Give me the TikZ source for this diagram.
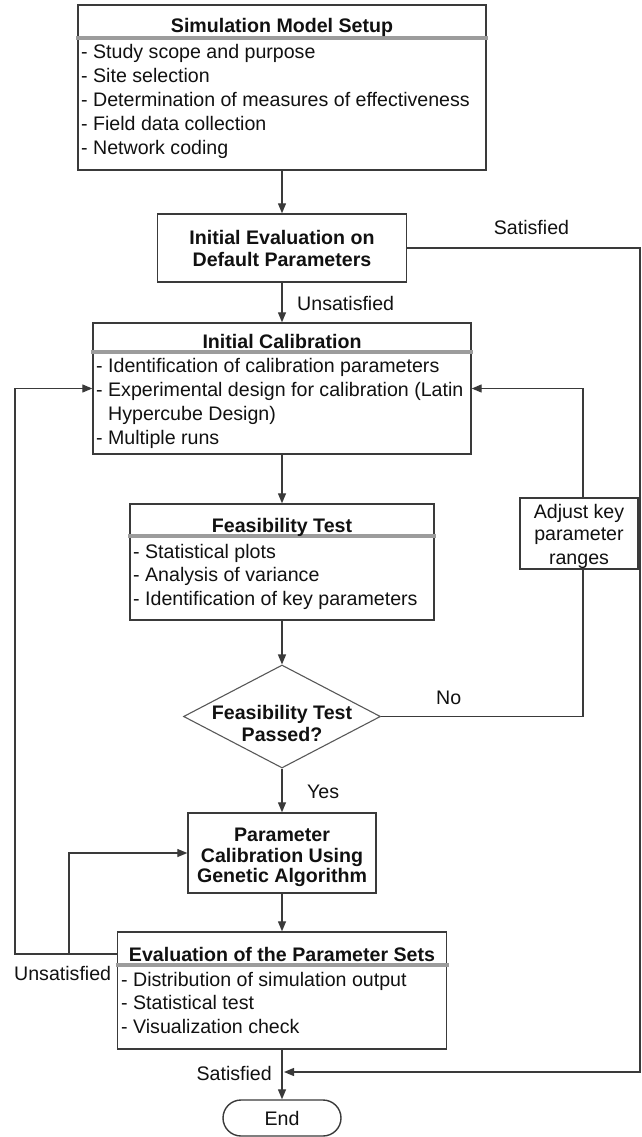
\documentclass[tikz,border=0pt]{standalone}
\usepackage{fontspec}
\setmainfont{Liberation Sans}
\usetikzlibrary{arrows.meta,shapes.geometric,calc}
\definecolor{edge}{HTML}{3A3A3A}
\definecolor{hdrgray}{HTML}{9C9C9C}
\definecolor{ink}{HTML}{111111}
\tikzset{
  box/.style={draw=edge, line width=1.4pt, inner sep=0pt, fill=white},
  txt/.style={font=\fontsize{19.6}{23.7}\selectfont, text=ink, inner sep=0pt},
  btxt/.style={txt, font=\fontsize{19.6}{23.7}\selectfont\bfseries},
  hdr/.style={draw=hdrgray, line width=4pt},
  conn/.style={draw=edge, line width=1.3pt},
  arr/.style={conn, -{Triangle[length=10pt,width=8pt]}},
}
\begin{document}
\begin{tikzpicture}[x=1pt,y=-1pt]
\useasboundingbox (0,0) rectangle (641,1137);

% process boxes
\node[box, minimum width=408pt, minimum height=165pt] (setup) at (282,87.5) {};
\node[box, minimum width=249pt, minimum height=68pt] (init) at (282,248) {};
\node[box, minimum width=378pt, minimum height=131pt] (calib) at (282,388.5) {};
\node[box, minimum width=304pt, minimum height=116pt] (feas) at (282,562) {};
\node[box, minimum width=118pt, minimum height=71pt] (adjust) at (579,533.5) {};
\node[box, diamond, draw=edge!85, line width=1.1pt, minimum width=197pt, minimum height=103pt] (dec) at (282,716.5) {};
\node[box, minimum width=188pt, minimum height=80pt] (ga) at (282,853) {};
\node[box, minimum width=329pt, minimum height=117pt] (eval) at (282,990.5) {};
\node[box, rounded corners=18pt, minimum width=118pt, minimum height=36pt] (end) at (282,1118) {};

% header separators
\draw[hdr] (76,38) -- (488,38);
\draw[hdr] (91,352) -- (473,352);
\draw[hdr] (128,536) -- (436,536);
\draw[hdr] (115.5,965) -- (448.5,965);

% headers
\node[btxt, anchor=base] (setupH) at (282,33) {Simulation Model Setup};
\node[btxt, anchor=base] (calibH) at (282,348) {Initial Calibration};
\node[btxt, anchor=base] (feasH) at (282,532) {Feasibility Test};
\node[btxt, anchor=base] (evalH) at (282,961) {Evaluation of the Parameter Sets};

% bullet lists
\foreach \t [count=\i from 0] in {{- Study scope and purpose},{- Site selection},{- Determination of measures of effectiveness},{- Field data collection},{- Network coding}}
  \node[txt, anchor=base west] (setupI\i) at (81,{59+\i*23.75}) {\t};
\foreach \t [count=\i from 0] in {{- Identification of calibration parameters},{- Experimental design for calibration (Latin},{\hphantom{-} Hypercube Design)},{- Multiple runs}}
  \node[txt, anchor=base west] (calibI\i) at (96,{372+\i*24.3}) {\t};
\foreach \t [count=\i from 0] in {{- Statistical plots},{- Analysis of variance},{- Identification of key parameters}}
  \node[txt, anchor=base west] (feasI\i) at (133,{558+\i*23.5}) {\t};
\foreach \t [count=\i from 0] in {{- Distribution of simulation output},{- Statistical test},{- Visualization check}}
  \node[txt, anchor=base west] (evalI\i) at (121,{986+\i*23.5}) {\t};

% centred texts
\node[btxt, anchor=base] (initT1) at (282,244) {Initial Evaluation on};
\node[btxt, anchor=base] (initT2) at (282,266) {Default Parameters};
\node[btxt, anchor=base] (decT1) at (282,719) {Feasibility Test};
\node[btxt, anchor=base] (decT2) at (282,741) {Passed?};
\node[btxt, anchor=base] (gaT1) at (282,841) {Parameter};
\node[btxt, anchor=base] (gaT2) at (282,862) {Calibration Using};
\node[btxt, anchor=base] (gaT3) at (282,882) {Genetic Algorithm};
\node[txt, anchor=base] (adjT1) at (579,518) {Adjust key};
\node[txt, anchor=base] (adjT2) at (579,540) {parameter};
\node[txt, anchor=base] (adjT3) at (579,564) {ranges};
\node[txt, anchor=base] (endT) at (282,1125) {End};

% edge labels
\node[txt, anchor=base] (lblSat1) at (531.5,234) {Satisfied};
\node[txt, anchor=base west] (lblUns1) at (297,310) {Unsatisfied};
\node[txt, anchor=base west] (lblNo) at (436,704) {No};
\node[txt, anchor=base west] (lblYes) at (307,798) {Yes};
\node[txt, anchor=base west] (lblUns2) at (14,980) {Unsatisfied};
\node[txt, anchor=base east] (lblSat2) at (272,1080) {Satisfied};

% main flow
\draw[arr] (setup) -- (init);
\draw[arr] (init) -- (calib);
\draw[arr] (calib) -- (feas);
\draw[arr] (feas) -- (dec);
\draw[arr] (dec) -- (ga);
\draw[arr] (ga) -- (eval);
\draw[arr] (eval) -- (end);

% satisfied bypass on the right
\coordinate (rtop) at (640,248);
\coordinate (rbot) at (640,1072);
\coordinate (mergeR) at (284,1072);
\draw[arr] (init.east) -- (rtop) -- (rbot) -- (mergeR);

% infeasible loop through range adjustment
\coordinate (nx) at (583,716.5);
\draw[conn] (dec.east) -- (nx) -- ($(adjust.south)+(4,0)$);
\draw[arr] ($(adjust.north)+(4,0)$) |- (calib.east);

% unsatisfied loops on the left
\coordinate (evalL) at (117.5,954);
\coordinate (lx) at (15,954);
\coordinate (bx) at (69,954);
\draw[arr] (evalL) -- (lx) |- (calib.west);
\draw[arr] (bx) |- (ga.west);
\end{tikzpicture}
\end{document}
